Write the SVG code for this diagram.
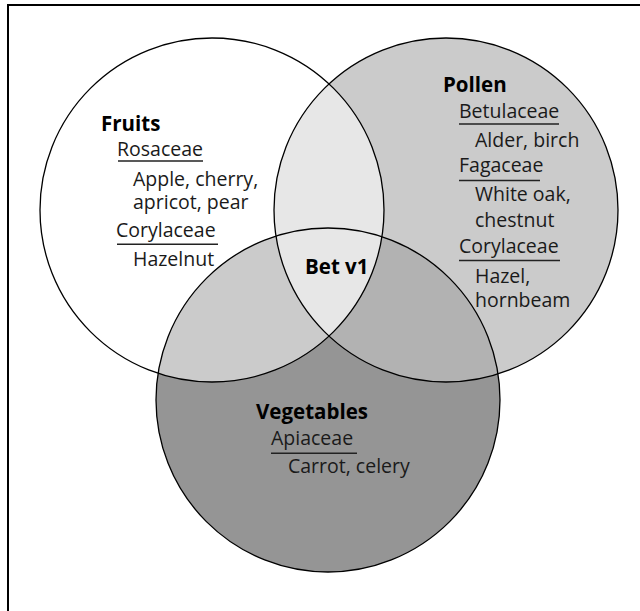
<svg xmlns="http://www.w3.org/2000/svg" width="640" height="611" viewBox="0 0 640 611">
<style>
.ol{fill:none;stroke:#000;stroke-width:1.3}
.t{font-family:"Open Sans","Liberation Sans",sans-serif;font-size:19.5px;fill:#1a1a1a}
.h{font-family:"Open Sans","Liberation Sans",sans-serif;font-size:20.5px;font-weight:bold;fill:#000}
.u{stroke:#222;stroke-width:1.4}
</style>
<defs>
<clipPath id="cF"><circle cx="212" cy="210" r="172"/></clipPath>
<clipPath id="cP"><circle cx="446" cy="210" r="172"/></clipPath>
</defs>
<rect x="8" y="5" width="700" height="700" fill="#fff" stroke="#000" stroke-width="2"/>
<g id="fills">
<circle cx="212" cy="210" r="172" fill="#fff"/>
<circle cx="446" cy="210" r="172" fill="#cbcbcb"/>
<circle cx="328" cy="400" r="172" fill="#959595"/>
<circle cx="328" cy="400" r="172" fill="#b2b2b2" clip-path="url(#cP)"/>
<circle cx="328" cy="400" r="172" fill="#cbcbcb" clip-path="url(#cF)"/>
<circle cx="446" cy="210" r="172" fill="#e7e7e7" clip-path="url(#cF)"/>
</g>
<g id="connectors"></g>
<g id="fruits">
<circle class="ol" cx="212" cy="210" r="172"/>
<text class="h" x="101" y="131">Fruits</text>
<text class="t" x="117" y="156">Rosaceae</text>
<line class="u" x1="118" y1="161" x2="203" y2="161"/>
<text class="t" x="133" y="186">Apple, cherry,</text>
<text class="t" x="133" y="209">apricot, pear</text>
<text class="t" x="116" y="237">Corylaceae</text>
<line class="u" x1="117" y1="244.3" x2="218" y2="244.3"/>
<text class="t" x="133" y="266">Hazelnut</text>
</g>
<g id="pollen">
<circle class="ol" cx="446" cy="210" r="172"/>
<text class="h" x="443" y="92">Pollen</text>
<text class="t" x="459" y="118">Betulaceae</text>
<line class="u" x1="459" y1="124" x2="559" y2="124"/>
<text class="t" x="475" y="147">Alder, birch</text>
<text class="t" x="459" y="172">Fagaceae</text>
<line class="u" x1="459" y1="180.5" x2="540" y2="180.5"/>
<text class="t" x="475" y="201">White oak,</text>
<text class="t" x="475" y="227">chestnut</text>
<text class="t" x="459" y="253">Corylaceae</text>
<line class="u" x1="459" y1="260.5" x2="560" y2="260.5"/>
<text class="t" x="475" y="283">Hazel,</text>
<text class="t" x="475" y="307">hornbeam</text>
</g>
<g id="vegetables">
<circle class="ol" cx="328" cy="400" r="172"/>
<text class="h" x="256" y="418.5">Vegetables</text>
<text class="t" x="271" y="445">Apiaceae</text>
<line class="u" x1="271" y1="453.3" x2="357" y2="453.3"/>
<text class="t" x="288" y="473">Carrot, celery</text>
</g>
<g id="betv1">
<text class="h" x="305" y="274">Bet v1</text>
</g>
</svg>
